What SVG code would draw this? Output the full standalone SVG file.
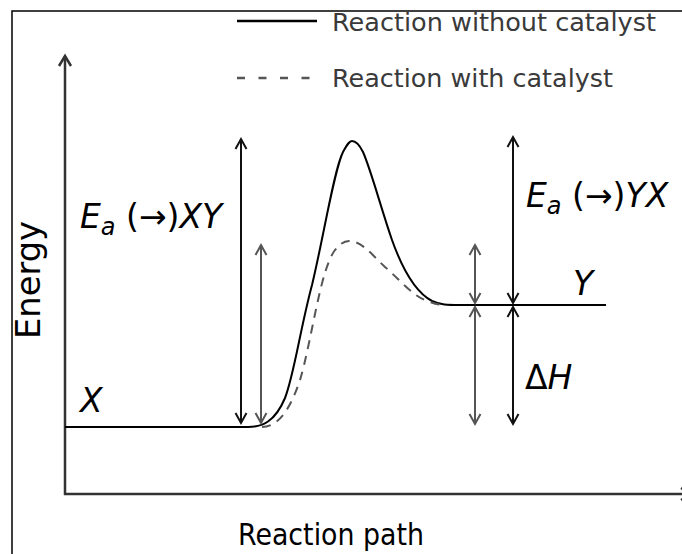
<svg xmlns="http://www.w3.org/2000/svg" width="682" height="554" viewBox="0 0 682 554">
<style>
text{font-family:"DejaVu Sans","Liberation Sans",sans-serif;}
.lbl{font-size:33px;fill:#000;}
.it{font-style:italic;}
.leg{font-size:24px;fill:#3a3a3a;}
.axis{fill:none;stroke:#333;stroke-width:2.5;}
.solid{fill:none;stroke:#000;stroke-width:2;}
.dash{fill:none;stroke:#555;stroke-width:2;stroke-dasharray:9,7;}
.ab{fill:none;stroke:#111;stroke-width:2;marker-start:url(#hb);marker-end:url(#hb);}
.ag{fill:none;stroke:#555;stroke-width:2;marker-start:url(#hg);marker-end:url(#hg);}
</style>
<defs>
<marker id="hb" markerUnits="userSpaceOnUse" markerWidth="20" markerHeight="20" refX="0" refY="0" viewBox="-12 -10 14 20" orient="auto-start-reverse" overflow="visible">
<path d="M-10,-5.5 L0,0 L-10,5.5" fill="none" stroke="#111" stroke-width="2"/>
</marker>
<marker id="hg" markerUnits="userSpaceOnUse" markerWidth="20" markerHeight="20" refX="0" refY="0" viewBox="-12 -10 14 20" orient="auto-start-reverse" overflow="visible">
<path d="M-10,-5.5 L0,0 L-10,5.5" fill="none" stroke="#555" stroke-width="2"/>
</marker>
<marker id="ha" markerUnits="userSpaceOnUse" markerWidth="20" markerHeight="20" refX="0" refY="0" viewBox="-12 -10 14 20" orient="auto" overflow="visible">
<path d="M-10,-6 L0,0 L-10,6" fill="none" stroke="#333" stroke-width="2.5"/>
</marker>
</defs>
<rect x="0" y="0" width="682" height="554" fill="#fff"/>
<rect x="12" y="11" width="720" height="600" fill="none" stroke="#000" stroke-width="1.5"/>

<g id="axes">
<path class="axis" d="M65,495 L65,56" marker-end="url(#ha)"/>
<path class="axis" d="M64,494 L691,494" marker-end="url(#ha)"/>
<text id="ylabel" x="0" y="0" transform="translate(40,339) rotate(-90)" style="font-size:33px" fill="#000" textLength="118" lengthAdjust="spacingAndGlyphs">Energy</text>
<text id="xlabel" x="238" y="545" style="font-size:31px" fill="#000" textLength="186" lengthAdjust="spacingAndGlyphs">Reaction path</text>
</g>

<g id="legend">
<line x1="237" y1="21" x2="317" y2="21" stroke="#000" stroke-width="2.5"/>
<text class="leg" x="332" y="31" textLength="324" lengthAdjust="spacingAndGlyphs">Reaction without catalyst</text>
<line x1="237" y1="78" x2="317" y2="78" stroke="#555" stroke-width="2.5" stroke-dasharray="8,13.5"/>
<text class="leg" x="332" y="87" textLength="281" lengthAdjust="spacingAndGlyphs">Reaction with catalyst</text>
</g>

<g id="curves">
<path id="uncatalysed" class="solid" d="M65,427 L248,427 C262,427 275,422 285,398 C294,375 300,330 312,285 C324,235 334,170 343,152 C347,145 349,141 352,141 C356,141 359,144 363,152 C371,170 380,205 392,240 C402,268 415,292 432,301 C440,305 448,305 460,305 L606,305"/>
<path id="catalysed" class="dash" d="M262,427 C278,427 290,410 300,380 C312,340 320,270 335,250 C340,244 344,241 349,241 C362,241 372,255 385,267 C400,280 412,295 425,300 C432,303 438,305 445,305"/>
</g>

<g id="connectors">
<line class="ab" x1="241" y1="139" x2="241" y2="423"/>
<line class="ag" x1="261" y1="245" x2="261" y2="423"/>
<line class="ag" x1="475" y1="245" x2="475" y2="303"/>
<line class="ag" x1="475" y1="307" x2="475" y2="424"/>
<line class="ab" x1="513" y1="137" x2="513" y2="303"/>
<line class="ab" x1="513" y1="307" x2="513" y2="424"/>
</g>

<g id="label-EaXY">
<text class="lbl" x="80" y="228"><tspan class="it">E</tspan><tspan class="it" style="font-size:24px" dy="7">a</tspan><tspan dy="-7"> (→)</tspan><tspan class="it">XY</tspan></text>
</g>
<g id="label-EaYX">
<text class="lbl" x="526" y="207"><tspan class="it">E</tspan><tspan class="it" style="font-size:24px" dy="7">a</tspan><tspan dy="-7"> (→)</tspan><tspan class="it">YX</tspan></text>
</g>
<g id="label-X"><text class="lbl it" x="80" y="412">X</text></g>
<g id="label-Y"><text class="lbl it" x="573" y="295">Y</text></g>
<g id="label-dH"><text class="lbl" x="525" y="389">Δ<tspan class="it">H</tspan></text></g>
</svg>
